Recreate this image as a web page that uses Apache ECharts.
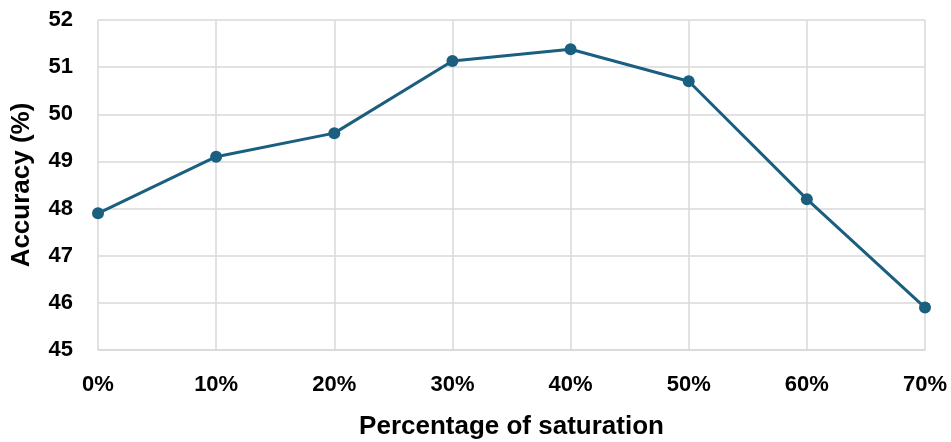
<!DOCTYPE html>
<html>
<head>
<meta charset="utf-8">
<script src="https://cdn.jsdelivr.net/npm/echarts@6/dist/echarts.min.js"></script>
<style>
  html, body { margin: 0; padding: 0; background: #fff; }
  #chart { width: 951px; height: 442px; }
</style>
</head>
<body>
<div id="chart"></div>
<script>
// Saturation levels and measured accuracy
const saturationLevels = ['0%', '10%', '20%', '30%', '40%', '50%', '60%', '70%'];
const accuracyValues = [47.9, 49.1, 49.6, 51.13, 51.38, 50.7, 48.2, 45.9];
const yTicks = { min: 45, max: 52, interval: 1 };

const font = '"Liberation Sans", Arial, sans-serif';
const lineColor = '#1a5f80';
const gridColor = '#d9d9d9';

const chart = echarts.init(document.getElementById('chart'));
chart.setOption({
  animation: false,
  grid: { left: 98, right: 26, top: 20, bottom: 92, outerBoundsMode: 'none', containLabel: false },
  xAxis: {
    type: 'category',
    data: saturationLevels,
    boundaryGap: false,
    name: 'Percentage of saturation',
    nameLocation: 'middle',
    nameGap: 64,
    nameTextStyle: { fontFamily: font, fontWeight: 'bold', fontSize: 26, color: '#000' },
    axisLine: { show: true, lineStyle: { color: gridColor, width: 1.5 } },
    axisTick: { show: false },
    axisLabel: { fontFamily: font, fontWeight: 'bold', fontSize: 22, color: '#000', margin: 24 },
    splitLine: { show: true, lineStyle: { color: gridColor, width: 1.5 } }
  },
  yAxis: {
    type: 'value',
    min: yTicks.min,
    max: yTicks.max,
    interval: yTicks.interval,
    name: 'Accuracy (%)',
    nameLocation: 'middle',
    nameGap: 63,
    nameTextStyle: { fontFamily: font, fontWeight: 'bold', fontSize: 26, color: '#000' },
    axisLine: { show: false },
    axisTick: { show: false },
    axisLabel: { fontFamily: font, fontWeight: 'bold', fontSize: 22, color: '#000', margin: 25 },
    splitLine: { show: true, lineStyle: { color: gridColor, width: 1.5 } }
  },
  series: [{
    type: 'line',
    data: accuracyValues,
    symbol: 'circle',
    symbolSize: 12,
    itemStyle: { color: lineColor },
    lineStyle: { color: lineColor, width: 3 }
  }]
});
</script>
</body>
</html>
